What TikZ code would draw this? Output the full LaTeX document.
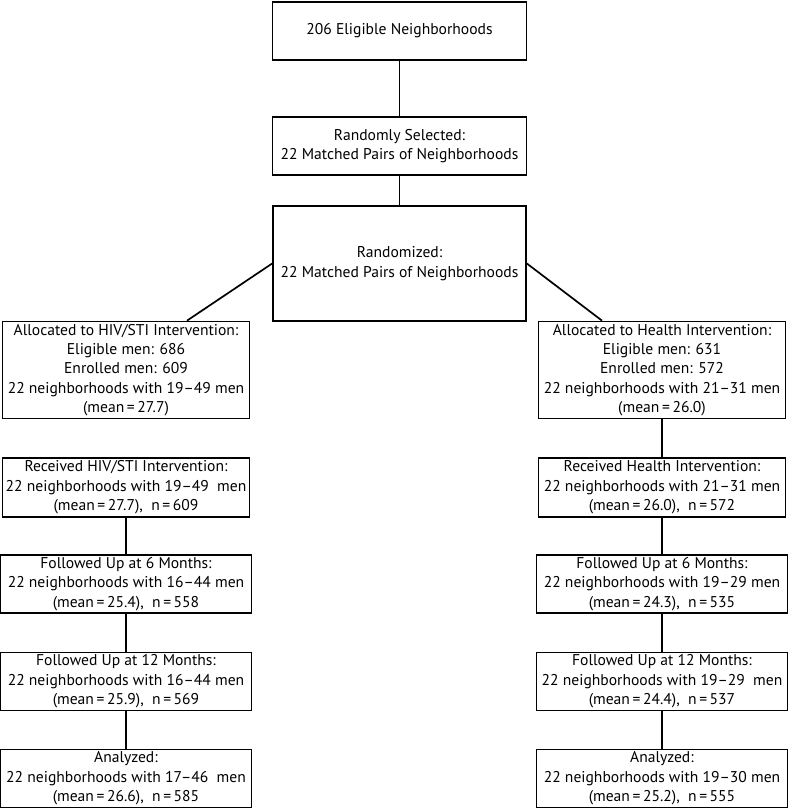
\documentclass[tikz,border=0pt]{standalone}
\usepackage{fontspec}
\setmainfont{PT Sans}
\usetikzlibrary{calc}
\tikzset{>=latex}
\tikzset{
  stage/.style={draw, line width=1.7pt, align=center, inner sep=0pt,
    font=\fontsize{15.6}{19.4}\selectfont},
  link/.style={line width=1.7pt}
}

\begin{document}
\begin{tikzpicture}[x=1pt, y=-1pt]
    \useasboundingbox (0,0) rectangle (790,808);

    \node [stage, minimum width=254pt, minimum height=58pt] (elig) at (399.5, 31)
    {206 Eligible Neighborhoods};

    \node [stage, minimum width=254pt, minimum height=58pt] (sel) at (399.5, 146)
    {Randomly Selected:\\22 Matched Pairs of Neighborhoods};

    \node [stage, minimum width=253pt, minimum height=115pt] (rand) at (399.5, 263.5)
    {Randomized:\\22 Matched Pairs of Neighborhoods};

    \node [stage, minimum width=247pt, minimum height=97pt] (hivalloc) at (126, 370)
    {Allocated to HIV/STI Intervention:\\Eligible men: 686\\Enrolled men: 609\\
    22 neighborhoods with 19--49 men\\(mean\,=\,27.7)};

    \node [stage, minimum width=247pt, minimum height=97pt] (healthalloc) at (662, 370)
    {Allocated to Health Intervention:\\Eligible men: 631\\Enrolled men: 572\\
    22 neighborhoods with 21--31 men\\(mean\,=\,26.0)};

    \node [stage, minimum width=247pt, minimum height=59pt] (hivrec) at (126, 487.5)
    {Received HIV/STI Intervention:\\22 neighborhoods with 19--49\ \ men\\
    (mean\,=\,27.7),\ \ n\,=\,609};

    \node [stage, minimum width=247pt, minimum height=59pt] (healthrec) at (662, 487.5)
    {Received Health Intervention:\\22 neighborhoods with 21--31 men\\
    (mean\,=\,26.0),\ \ n\,=\,572};

    \node [stage, minimum width=251pt, minimum height=58pt] (hivsix) at (126, 584)
    {Followed Up at 6 Months:\\22 neighborhoods with 16--44 men\\
    (mean\,=\,25.4),\ \ n\,=\,558};

    \node [stage, minimum width=251pt, minimum height=58pt] (healthsix) at (662, 584)
    {Followed Up at 6 Months:\\22 neighborhoods with 19--29 men\\
    (mean\,=\,24.3),\ \ n\,=\,535};

    \node [stage, minimum width=251pt, minimum height=58pt] (hivtwelve) at (126, 681.5)
    {Followed Up at 12 Months:\\22 neighborhoods with 16--44 men\\
    (mean\,=\,25.9),\ \ n\,=\,569};

    \node [stage, minimum width=251pt, minimum height=58pt] (healthtwelve) at (662, 681.5)
    {Followed Up at 12 Months:\\22 neighborhoods with 19--29\ \ men\\
    (mean\,=\,24.4),\ \ n\,=\,537};

    \node [stage, minimum width=251pt, minimum height=58pt] (hivanal) at (126, 778.5)
    {Analyzed:\\22 neighborhoods with 17--46\ \ men\\
    (mean\,=\,26.6),\ \ n\,=\,585};

    \node [stage, minimum width=251pt, minimum height=58pt] (healthanal) at (662, 778.5)
    {Analyzed:\\22 neighborhoods with 19--30 men\\
    (mean\,=\,25.2),\ \ n\,=\,555};

    \draw [link] (elig) -- (sel);
    \draw [link] (sel) -- (rand);
    \draw [link] (rand.west) -- ([xshift=61pt]hivalloc.north);
    \draw [link] (rand.east) -- ([xshift=-60pt]healthalloc.north);

    \draw [link] (healthalloc) -- (healthrec);
    \draw [link] (healthrec) -- (healthsix);
    \draw [link] (healthsix) -- (healthtwelve);
    \draw [link] (healthtwelve) -- (healthanal);

    \draw [link] (hivrec) -- (hivsix);
    \draw [link] (hivsix) -- (hivtwelve);
    \draw [link] (hivtwelve) -- (hivanal);
  \end{tikzpicture}
\end{document}
